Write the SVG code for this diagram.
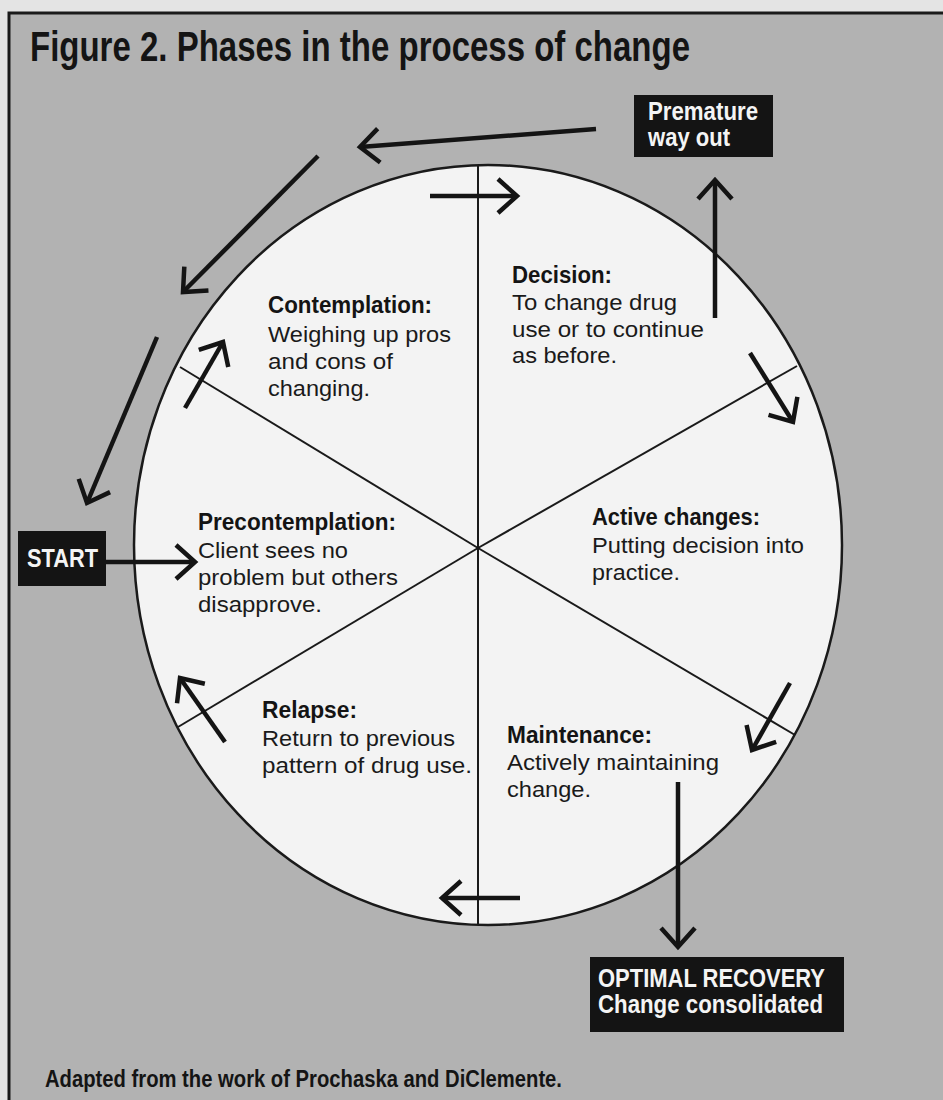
<svg xmlns="http://www.w3.org/2000/svg" width="943" height="1100" viewBox="0 0 943 1100">
<style>
.h{font-family:"Liberation Sans Narrow","Liberation Sans",Arial,sans-serif;font-weight:bold;font-size:24px;fill:#141414}
.b{font-family:"Liberation Sans",Arial,sans-serif;font-size:22px;fill:#1a1a1a}
.w{fill:#f4f4f4}
.box{fill:#141414}
.con{stroke:#141414;stroke-width:4.5;fill:none;marker-end:url(#ah)}
.spoke{stroke:#1a1a1a;stroke-width:2;fill:none}
</style>
<defs>
<marker id="ah" markerUnits="userSpaceOnUse" markerWidth="60" markerHeight="60" viewBox="-30 -30 60 60" refX="0" refY="0" orient="auto">
<path d="M-19,-17 L0,0 L-19,17" fill="none" stroke="#141414" stroke-width="4.5" stroke-linejoin="miter"/>
</marker>
</defs>
<rect x="0" y="0" width="943" height="1100" fill="#e4e4e4"/>
<rect x="9" y="13" width="934" height="1087" fill="#b2b2b2"/>
<path d="M9,1100 L9,13 L943,13" fill="none" stroke="#1a1a1a" stroke-width="3"/>
<text class="h" x="30" y="61" style="font-size:42px" textLength="660" lengthAdjust="spacingAndGlyphs">Figure 2. Phases in the process of change</text>
<g id="wheel">
<ellipse cx="488" cy="545" rx="354" ry="380" fill="#f3f3f3" stroke="#1a1a1a" stroke-width="2.5"/>
<line class="spoke" x1="478" y1="165" x2="478" y2="925"/>
<line class="spoke" x1="180" y1="367" x2="478" y2="548"/>
<line class="spoke" x1="797" y1="366" x2="478" y2="548"/>
<line class="spoke" x1="178" y1="727" x2="478" y2="548"/>
<line class="spoke" x1="795" y1="735" x2="478" y2="548"/>
</g>
<g id="contemplation">
<text class="h" x="268" y="313" textLength="164" lengthAdjust="spacingAndGlyphs">Contemplation:</text>
<text class="b" x="268" y="342" textLength="183" lengthAdjust="spacingAndGlyphs">Weighing up pros</text>
<text class="b" x="268" y="369" textLength="125" lengthAdjust="spacingAndGlyphs">and cons of</text>
<text class="b" x="268" y="396" textLength="102" lengthAdjust="spacingAndGlyphs">changing.</text>
</g>
<g id="decision">
<text class="h" x="512" y="283" textLength="100" lengthAdjust="spacingAndGlyphs">Decision:</text>
<text class="b" x="512" y="310" textLength="165" lengthAdjust="spacingAndGlyphs">To change drug</text>
<text class="b" x="512" y="337" textLength="192" lengthAdjust="spacingAndGlyphs">use or to continue</text>
<text class="b" x="512" y="363" textLength="105" lengthAdjust="spacingAndGlyphs">as before.</text>
</g>
<g id="precontemplation">
<text class="h" x="198" y="530" textLength="198" lengthAdjust="spacingAndGlyphs">Precontemplation:</text>
<text class="b" x="198" y="558" textLength="150" lengthAdjust="spacingAndGlyphs">Client sees no</text>
<text class="b" x="198" y="585" textLength="200" lengthAdjust="spacingAndGlyphs">problem but others</text>
<text class="b" x="198" y="612" textLength="124" lengthAdjust="spacingAndGlyphs">disapprove.</text>
</g>
<g id="active">
<text class="h" x="592" y="525" textLength="168" lengthAdjust="spacingAndGlyphs">Active changes:</text>
<text class="b" x="592" y="553" textLength="212" lengthAdjust="spacingAndGlyphs">Putting decision into</text>
<text class="b" x="592" y="580" textLength="88" lengthAdjust="spacingAndGlyphs">practice.</text>
</g>
<g id="relapse">
<text class="h" x="262" y="718" textLength="95" lengthAdjust="spacingAndGlyphs">Relapse:</text>
<text class="b" x="262" y="746" textLength="193" lengthAdjust="spacingAndGlyphs">Return to previous</text>
<text class="b" x="262" y="773" textLength="210" lengthAdjust="spacingAndGlyphs">pattern of drug use.</text>
</g>
<g id="maintenance">
<text class="h" x="507" y="743" textLength="145" lengthAdjust="spacingAndGlyphs">Maintenance:</text>
<text class="b" x="507" y="770" textLength="212" lengthAdjust="spacingAndGlyphs">Actively maintaining</text>
<text class="b" x="507" y="797" textLength="84" lengthAdjust="spacingAndGlyphs">change.</text>
</g>
<g id="start">
<rect class="box" x="18" y="531" width="88" height="55"/>
<text class="h w" x="27" y="567" style="font-size:26px" textLength="71" lengthAdjust="spacingAndGlyphs">START</text>
</g>
<g id="premature">
<rect class="box" x="634" y="95" width="139" height="62"/>
<text class="h w" x="648" y="120" style="font-size:25px" textLength="110" lengthAdjust="spacingAndGlyphs">Premature</text>
<text class="h w" x="648" y="146" style="font-size:25px" textLength="82" lengthAdjust="spacingAndGlyphs">way out</text>
</g>
<g id="optimal">
<rect class="box" x="590" y="957" width="254" height="75"/>
<text class="h w" x="598" y="987" style="font-size:25px" textLength="227" lengthAdjust="spacingAndGlyphs">OPTIMAL RECOVERY</text>
<text class="h w" x="598" y="1013" style="font-size:25px" textLength="225" lengthAdjust="spacingAndGlyphs">Change consolidated</text>
</g>
<g id="connectors">
<line class="con" x1="596" y1="129" x2="360" y2="147"/>
<line class="con" x1="318" y1="156" x2="183" y2="292"/>
<line class="con" x1="157" y1="337" x2="87" y2="503"/>
<line class="con" x1="106" y1="562" x2="195" y2="562"/>
<line class="con" x1="185" y1="408" x2="223" y2="342"/>
<line class="con" x1="430" y1="196" x2="517" y2="196"/>
<line class="con" x1="715" y1="318" x2="715" y2="180"/>
<line class="con" x1="750" y1="353" x2="793" y2="422"/>
<line class="con" x1="790" y1="683" x2="752" y2="750"/>
<line class="con" x1="678" y1="782" x2="678" y2="947"/>
<line class="con" x1="520" y1="898" x2="442" y2="898"/>
<line class="con" x1="225" y1="742" x2="180" y2="678"/>
</g>
<text class="h" x="45" y="1087" style="font-size:23px" textLength="517" lengthAdjust="spacingAndGlyphs">Adapted from the work of Prochaska and DiClemente.</text>
</svg>
